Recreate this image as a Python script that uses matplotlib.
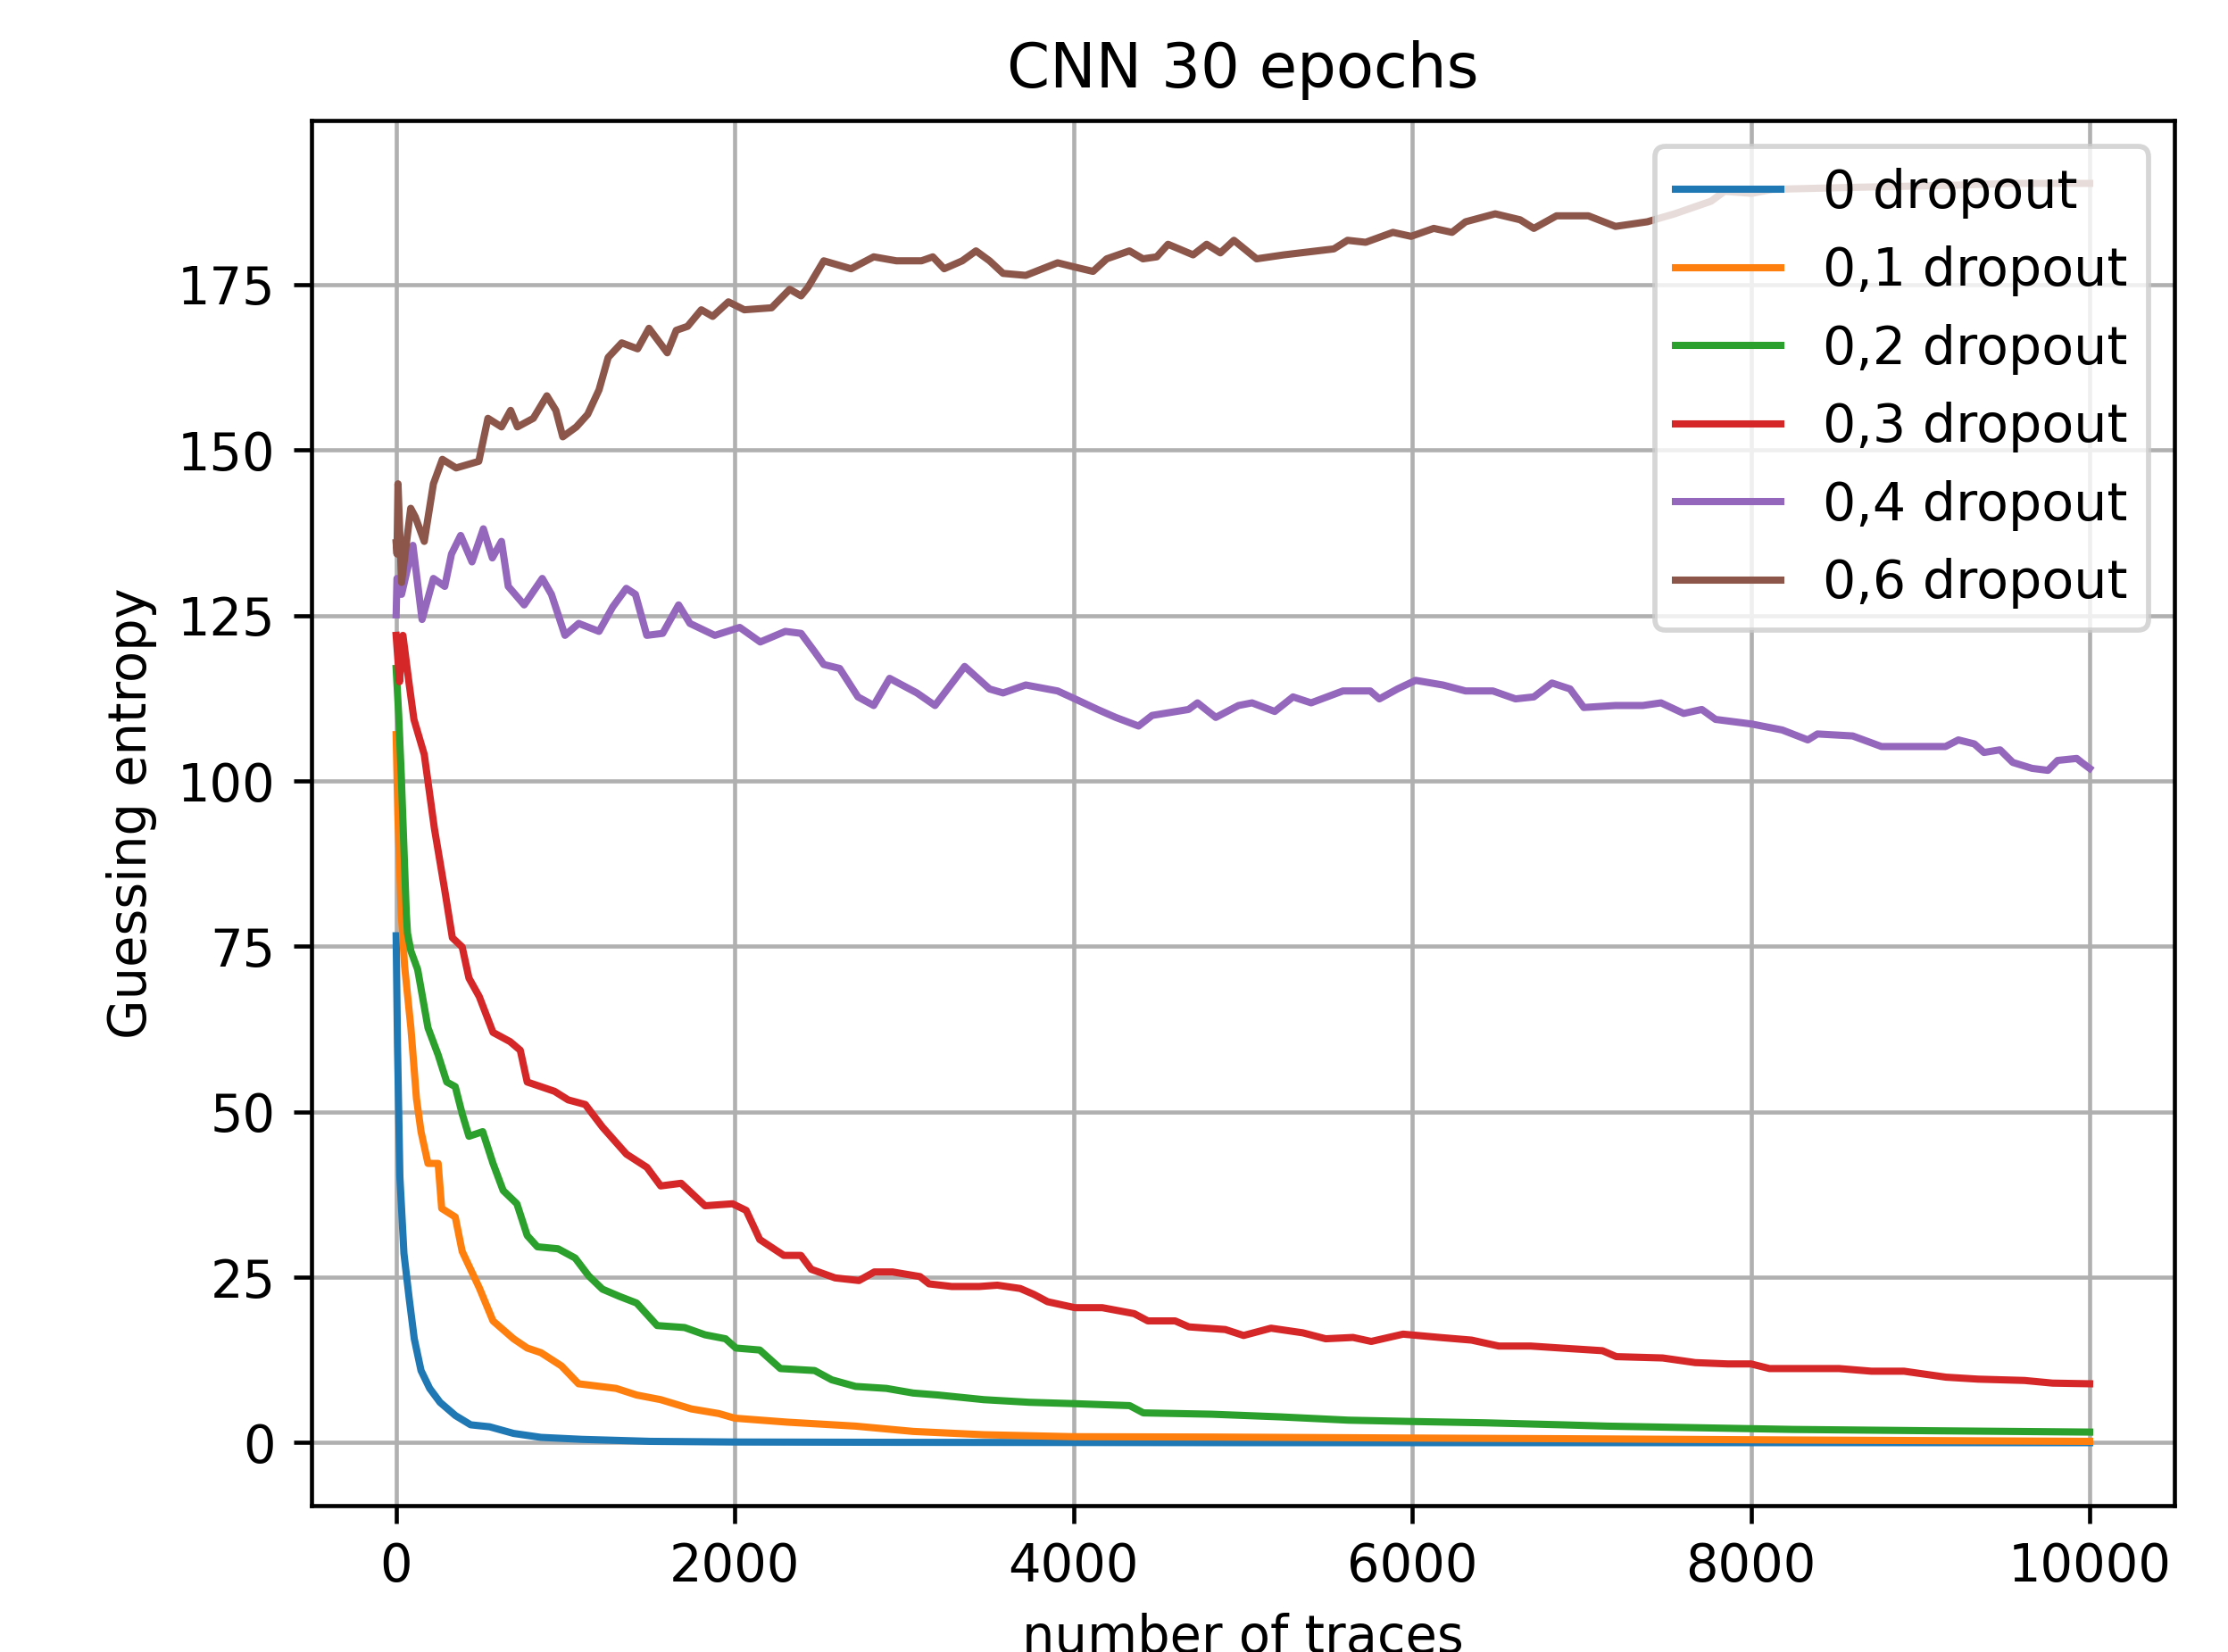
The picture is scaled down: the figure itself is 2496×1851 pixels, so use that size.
import matplotlib
matplotlib.use("Agg")
import matplotlib.pyplot as plt

labels = ["0 dropout", "0,1 dropout", "0,2 dropout", "0,3 dropout", "0,4 dropout", "0,6 dropout"]

x_d0 = [0, 8, 22, 46, 77, 107, 147, 198, 259, 350, 440, 552, 693, 855, 1097, 1501, 2000, 3000, 5000, 10000]
y_d0 = [76.6, 60, 40.2, 28.6, 21.8, 15.7, 10.9, 8.2, 6.1, 4.1, 2.7, 2.4, 1.4, 0.8, 0.5, 0.2, 0.1, 0.05, 0.0, 0.0]

x_d1 = [0, 10, 30, 50, 87, 120, 147, 188, 248, 269, 349, 390, 491, 572, 693, 774, 855, 976, 1077, 1299,
        1420, 1562, 1743, 1905, 2000, 2309, 2713, 3053, 3470, 4000, 4816, 6000, 6883, 8300, 10000]
y_d1 = [107, 95, 80, 72, 62.7, 52, 47, 42.2, 42.2, 35.4, 34.1, 28.9, 23.4, 18.4, 15.7, 14.3, 13.6, 11.6, 8.9, 8.2,
        7.2, 6.5, 5.1, 4.4, 3.7, 3.1, 2.5, 1.7, 1.2, 0.9, 0.85, 0.7, 0.6, 0.4, 0.2]

x_d2 = [0, 15, 30, 60, 67, 87, 127, 188, 248, 299, 349, 390, 430, 511, 572, 632, 713, 774, 834, 956,
        1057, 1137, 1218, 1319, 1420, 1541, 1703, 1824, 1945, 2006, 2147, 2269, 2471, 2572, 2713, 2895, 3053, 3201, 3470, 3739,
        4000, 4331, 4412, 4816, 5219, 5623, 6000, 6431, 6883, 7151, 8247, 9068, 10000]
y_d2 = [117, 110, 101, 80, 77, 74.3, 71.5, 62.7, 58.6, 54.5, 53.8, 49.7, 46.3, 47, 42.2, 38.1, 36.1, 31.3, 29.6, 29.3,
        27.9, 25.2, 23.2, 22.1, 21.1, 17.7, 17.4, 16.3, 15.7, 14.3, 14, 11.2, 10.9, 9.5, 8.5, 8.2, 7.5, 7.2, 6.5, 6.1,
        5.9, 5.6, 4.5, 4.3, 3.9, 3.4, 3.2, 3.0, 2.7, 2.5, 2.0, 1.8, 1.6]

x_d3 = [0, 20, 40, 75, 105, 166, 226, 287, 332, 390, 430, 491, 572, 673, 733, 774, 935, 1016, 1117, 1218,
        1360, 1481, 1562, 1683, 1824, 1986, 2067, 2147, 2289, 2390, 2451, 2592, 2733, 2824, 2931, 3093, 3147, 3281, 3443, 3550,
        3685, 3766, 3847, 4008, 4170, 4358, 4439, 4600, 4681, 4896, 5004, 5166, 5354, 5489, 5650, 5758, 5946, 6162, 6350, 6511,
        6700, 6877, 7123, 7205, 7479, 7671, 7863, 8000, 8110, 8521, 8712, 8904, 9151, 9342, 9616, 9781, 10000]
y_d3 = [122, 115, 122, 115, 109.3, 104, 92.8, 83.5, 76.3, 74.9, 70.2, 67.4, 62, 60.6, 59.3, 54.5, 53.1, 51.8, 51.1, 47.7,
        43.6, 41.6, 38.8, 39.2, 35.8, 36.1, 35.1, 30.7, 28.3, 28.3, 26.2, 24.9, 24.5, 25.8, 25.8, 25.1, 24, 23.6, 23.6, 23.8,
        23.3, 22.4, 21.3, 20.4, 20.4, 19.5, 18.4, 18.4, 17.5, 17.1, 16.2, 17.3, 16.6, 15.7, 15.9, 15.3, 16.4, 15.9, 15.5, 14.6,
        14.6, 14.3, 13.9, 13, 12.8, 12.1, 11.9, 11.9, 11.2, 11.2, 10.8, 10.8, 9.9, 9.6, 9.4, 9.0, 8.9]

x_d4 = [0, 5, 32, 99, 153, 220, 287, 327, 381, 448,
        515, 568, 622, 662, 756, 863, 917, 997, 1078, 1198,
        1279, 1359, 1413, 1480, 1574, 1668, 1735, 1882, 2029, 2150,
        2298, 2391, 2472, 2525, 2619, 2727, 2820, 2914, 3075, 3182,
        3357, 3504, 3584, 3718, 3906, 4000, 4142, 4249, 4384, 4464,
        4679, 4732, 4840, 4974, 5054, 5188, 5296, 5403, 5591, 5752,
        5806, 5913, 6020, 6181, 6315, 6476, 6610, 6718, 6825, 6932,
        7013, 7200, 7361, 7469, 7603, 7710, 7791, 8005, 8185, 8336,
        8393, 8601, 8771, 8979, 9149, 9225, 9319, 9376, 9471, 9546,
        9660, 9754, 9811, 9924, 9953, 10000]
y_d4 = [125.1, 130.6, 128.2, 135.6, 124.4, 130.6, 129.4, 134.3, 137.1, 133.1,
        138.1, 133.7, 136.2, 129.4, 126.6, 130.6, 128.2, 122, 123.8, 122.6,
        126.3, 129.1, 128.2, 122, 122.3, 126.6, 123.8, 122, 123.2, 121,
        122.6, 122.3, 119.5, 117.6, 117, 112.7, 111.4, 115.5, 113.3, 111.4,
        117.3, 113.9, 113.3, 114.5, 113.6, 112.5, 110.8, 109.6, 108.3, 109.9,
        110.8, 111.8, 109.6, 111.4, 111.8, 110.5, 112.7, 111.8, 113.6, 113.6,
        112.4, 113.9, 115.2, 114.5, 113.6, 113.6, 112.4, 112.7, 114.8, 113.9,
        111.1, 111.4, 111.4, 111.8, 110.2, 110.8, 109.3, 108.6, 107.7, 106.2,
        107.1, 106.8, 105.2, 105.2, 105.2, 106.2, 105.6, 104.3, 104.7, 102.8,
        101.9, 101.6, 103.1, 103.4, 102.8, 101.9]

x_d6 = [0, 5, 11, 32, 86, 113, 166, 220, 273, 354,
        488, 542, 622, 676, 716, 810, 890, 943, 984, 1064,
        1131, 1198, 1252, 1332, 1426, 1493, 1601, 1654, 1721, 1802,
        1869, 1962, 2056, 2217, 2324, 2391, 2432, 2525, 2686, 2820,
        2954, 3102, 3169, 3236, 3343, 3424, 3504, 3584, 3718, 3906,
        4000, 4115, 4196, 4330, 4410, 4491, 4558, 4706, 4786, 4867,
        4947, 5081, 5242, 5537, 5618, 5725, 5886, 5993, 6127, 6235,
        6315, 6490, 6637, 6718, 6852, 7040, 7200, 7388, 7549, 7764,
        7844, 8005, 8128, 8601, 9168, 9546, 10000]
y_d6 = [136, 134.3, 144.9, 130, 141.2, 139.9, 136.2, 144.9, 148.6, 147.3,
        148.3, 154.8, 153.5, 156, 153.5, 154.8, 158.2, 156, 152, 153.5,
        155.4, 159.1, 164, 166.2, 165.3, 168.4, 164.7, 168.1, 168.7, 171.2,
        170.2, 172.4, 171.2, 171.5, 174.3, 173.3, 174.6, 178.6, 177.4, 179.2,
        178.6, 178.6, 179.2, 177.4, 178.6, 180.1, 178.6, 176.7, 176.4, 178.3,
        177.7, 177, 178.9, 180.1, 178.9, 179.2, 181.1, 179.5, 181.1, 179.8,
        181.7, 178.9, 179.5, 180.4, 181.7, 181.4, 182.9, 182.3, 183.5, 182.9,
        184.5, 185.7, 184.8, 183.5, 185.4, 185.4, 183.8, 184.5, 185.7, 187.6,
        189.1, 188.8, 189.4, 189.7, 190, 190.3, 190.3]

series = [(x_d0, y_d0), (x_d1, y_d1), (x_d2, y_d2), (x_d3, y_d3), (x_d4, y_d4), (x_d6, y_d6)]

DPI = 414
fig = plt.figure(figsize=(2496 / DPI, 1851 / DPI), dpi=DPI)
ax = fig.add_axes([0.1398, 0.0886, 0.8361, 0.8385])

for (xs, ys), lab in zip(series, labels):
    ax.plot(xs, ys, label=lab, linewidth=1.4)

ax.grid(True)
ax.set_title("CNN 30 epochs", fontsize=12, pad=6.5)
ax.set_xlabel("number of traces", fontsize=10)
ax.set_ylabel("Guessing entropy", fontsize=10)
ax.set_yticks([0, 25, 50, 75, 100, 125, 150, 175])
ax.legend(loc="upper right", fontsize=10.2, labelspacing=0.52)

fig.savefig("out.png", dpi=DPI)
